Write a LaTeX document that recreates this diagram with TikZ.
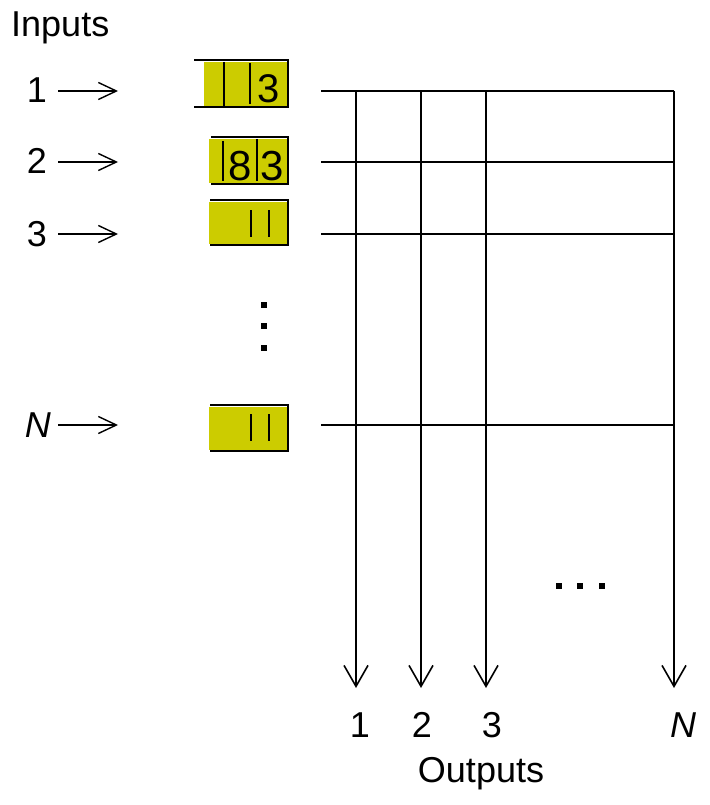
\documentclass[tikz,border=0pt]{standalone}
\usepackage{fontspec}
\setmainfont{Liberation Sans}
\usepackage{tikz}
\usetikzlibrary{arrows.meta, positioning}
\definecolor{qfill}{RGB}{204,204,0}

\begin{document}
\begin{tikzpicture}[
  x=1pt, y=-1pt,
  lbl/.style    = {inner sep=0pt, anchor=base, font=\fontsize{36}{42}\selectfont},
  cell/.style   = {inner sep=0pt, anchor=base},
  gridline/.style = {line width=1.6pt},
  qline/.style  = {line width=2pt},
  bar/.style    = {line width=2pt},
  inarr/.style  = {-{Straight Barb[length=18pt,width=17pt]}, line width=1.4pt},
  outarr/.style = {-{Straight Barb[length=21pt,width=24pt]}, line width=1.6pt},
  dot/.style    = {fill=black, minimum size=6.5pt, inner sep=0pt}
]
  \useasboundingbox (0,0) rectangle (709,805);

  \node[lbl, anchor=base west] (inputs) at (11,37) {Inputs};
  \foreach \r/\y/\t/\e in {1/91/1/47, 2/162/2/47, 3/234/3/47, N/425/{\textit{N}}/51} {
    \node[lbl, anchor=base east] (in\r) at (\e,\y+12) {\t};
    \coordinate (a\r) at (118,\y);
    \draw[inarr] (58,\y) -- (a\r);
  }

  \fill[qfill] (204,62) rectangle (287,106);
  \draw[qline] (194,60) -- (288,60) -- (288,107) -- (194,107);
  \draw[bar] (224,62) -- (224,106);
  \draw[bar] (250,63) -- (250,104);
  \node[cell, font=\fontsize{40}{44}\selectfont] (q1c) at (269,103) {3};

  \fill[qfill] (209,139) rectangle (287,183);
  \draw[qline] (211,137) -- (288,137) -- (288,184) -- (211,184);
  \draw[bar] (223,141) -- (223,181);
  \draw[bar] (257,139) -- (257,181);
  \node[cell, font=\fontsize{42}{46}\selectfont] (q2a) at (240,180) {8};
  \node[cell, font=\fontsize{42}{46}\selectfont] (q2b) at (272,180) {3};

  \fill[qfill] (209,202) rectangle (287,244);
  \draw[qline] (210,200) -- (288,200) -- (288,245) -- (210,245);
  \draw[bar] (251,210) -- (251,237);
  \draw[bar] (269,210) -- (269,237);

  \fill[qfill] (209,407) rectangle (287,450);
  \draw[qline] (210,405) -- (288,405) -- (288,451) -- (210,451);
  \draw[bar] (251,414) -- (251,441);
  \draw[bar] (269,414) -- (269,441);

  \foreach \i/\y in {1/305, 2/326, 3/348}
    \node[dot] (vd\i) at (264,\y) {};
  \foreach \i/\x in {1/559, 2/580, 3/602}
    \node[dot] (hd\i) at (\x,586) {};

  \foreach \r/\y in {1/91, 2/162, 3/234, N/425} {
    \coordinate (rs\r) at (321,\y);
    \coordinate (re\r) at (674,\y);
    \draw[gridline] (rs\r) -- (re\r);
  }
  \foreach \c/\x in {1/356, 2/421, 3/486, N/674} {
    \coordinate (ct\c) at (\x,91);
    \coordinate (cb\c) at (\x,688);
    \draw[outarr] (ct\c) -- (cb\c);
  }

  \node[lbl] (out1) at (360,737) {1};
  \node[lbl] (out2) at (422,737) {2};
  \node[lbl] (out3) at (492,737) {3};
  \node[lbl] (outN) at (683,737) {\textit{N}};
  \node[lbl] (outputs) at (481,782) {Outputs};
\end{tikzpicture}
\end{document}
